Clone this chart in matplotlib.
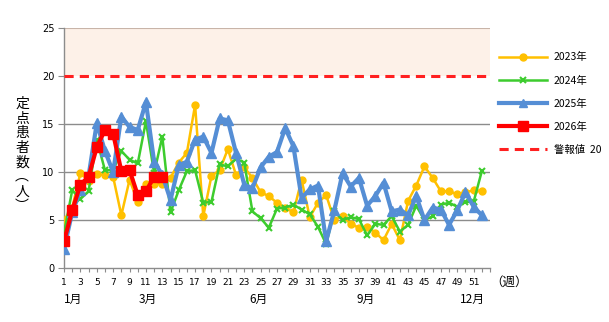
import matplotlib
matplotlib.use("Agg")
import matplotlib.pyplot as plt
from matplotlib.lines import Line2D

plt.rcParams['font.family'] = ['Noto Sans CJK JP', 'DejaVu Sans']

weeks = list(range(1, 53))
y2023 = [5.0, 6.3, 9.9, 9.1, 9.8, 9.7, 9.5, 5.5, 9.2, 6.9, 8.8, 8.8, 8.8, 9.4, 11.0, 12.0, 17.0,
         5.4, 9.6, 10.2, 12.4, 9.7, 10.5, 9.4, 7.9, 7.5, 6.8, 6.3, 5.8, 9.2, 5.3, 6.8, 7.6,
         5.0, 5.4, 4.6, 4.2, 4.3, 3.7, 2.9, 4.6, 2.9, 7.0, 8.6, 10.6, 9.4, 8.0, 8.0, 7.7, 7.9, 8.1, 8.0]
y2024 = [3.6, 8.1, 7.2, 8.0, 13.4, 10.2, 10.2, 12.2, 11.3, 10.9, 15.3, 9.9, 13.7, 5.8, 8.1, 10.1, 10.2,
         6.8, 6.9, 10.8, 10.6, 11.4, 11.0, 5.9, 5.2, 4.2, 6.2, 6.3, 6.6, 6.1, 5.6, 4.3, 2.5,
         5.9, 5.0, 5.3, 5.1, 3.4, 4.6, 4.5, 5.4, 3.8, 4.5, 6.5, 5.0, 5.4, 6.6, 6.8, 6.4, 6.9, 6.9, 10.1]
y2025 = [2.0, 5.8, 8.1, 9.6, 15.1, 12.2, 10.0, 15.8, 14.7, 14.4, 17.3, 11.1, 9.7, 7.1, 10.7, 11.1, 13.4,
         13.7, 12.0, 15.6, 15.4, 12.0, 8.7, 8.3, 10.5, 11.6, 12.1, 14.6, 12.7, 7.3, 8.2, 8.6, 2.8,
         6.0, 9.9, 8.5, 9.4, 6.5, 7.5, 8.9, 5.9, 6.1, 5.5, 7.5, 5.0, 6.3, 6.1, 4.5, 6.0, 7.9, 6.4, 5.5]
weeks2026 = list(range(1, 14))
y2026 = [2.8, 6.0, 8.7, 9.5, 12.6, 14.4, 14.0, 10.1, 10.2, 7.6, 8.0, 9.5, 9.5]
alarm = 20
xtick_labels = [str(w) for w in range(1, 52, 2)]
month_labels = ['1月', '3月', '6月', '9月', '12月']
month_pos = [2.1, 11.2, 24.8, 37.8, 50.9]

fig = plt.figure(figsize=(6.09, 3.22), dpi=100)
ax = fig.add_axes([64/609, 1-268/322, (490-64)/609, (268-28.3)/322])

ax.axhspan(20, 25, facecolor='#FDF1E8', edgecolor='none', zorder=0)
for g in [5, 10, 15]:
    ax.axhline(g, color='#8C8C8C', lw=1.0, zorder=1)
ax.axhline(25, color='#C8B4A8', lw=0.8, zorder=1)

ax.plot(weeks, y2023, color='#FFC000', lw=1.8, marker='o', ms=5, zorder=3, label='2023年')
ax.plot(weeks, y2024, color='#3DCC2E', lw=1.8, marker='x', ms=5, mew=1.5, zorder=4, label='2024年')
ax.plot(weeks, y2025, color='#558ED5', lw=3.0, marker='^', ms=7, zorder=5, label='2025年')
ax.plot(weeks2026, y2026, color='#FF0000', lw=3.0, marker='s', ms=7, zorder=6, label='2026年')
ax.axhline(alarm, color='#FF2020', lw=2.2, ls=(0, (3, 2)), zorder=7, label='警報値 20')

ax.set_xlim(1, 53)
ax.set_ylim(0, 25)
ax.set_yticks([0, 5, 10, 15, 20, 25])
ax.set_yticklabels(['0', '5', '10', '15', '20', '25'], fontsize=7, family='DejaVu Sans')
ax.set_xticks(list(range(1, 54)))
ax.set_xticklabels([str(w) if (w % 2 == 1 and w <= 51) else '' for w in range(1, 54)],
                   fontsize=6.5, family='DejaVu Sans')
ax.tick_params(axis='x', length=3, color='#8C8C8C', pad=4)
ax.tick_params(axis='y', length=4, color='#8C8C8C', pad=3, direction='out')
for s in ['top', 'right']:
    ax.spines[s].set_visible(False)
for s in ['left', 'bottom']:
    ax.spines[s].set_color('#8C8C8C')
    ax.spines[s].set_linewidth(1.0)

ax.text(53.0, -1.45, '（週）', fontsize=9, ha='left', va='center', clip_on=False)
for lab, p in zip(month_labels, month_pos):
    ax.text(p, -3.3, lab, fontsize=8.5, ha='center', va='center', clip_on=False)

fig.text(22/609, 1-155/322, '定\n点\n患\n者\n数\n︵\n人\n︶', fontsize=10, ha='center', va='center',
         linespacing=1.05)

handles = [
    Line2D([], [], color='#FFC000', lw=1.8, marker='o', ms=5),
    Line2D([], [], color='#3DCC2E', lw=1.8, marker='x', ms=5, mew=1.5),
    Line2D([], [], color='#558ED5', lw=3.0, marker='^', ms=6),
    Line2D([], [], color='#FF0000', lw=3.0, marker='s', ms=7),
    Line2D([], [], color='#FF2020', lw=2.2, ls=(0, (3, 2))),
]
labels = ['2023年', '2024年', '2025年', '2026年', '警報値  20']
fig.legend(handles, labels, loc='upper left', bbox_to_anchor=(490/609, 1-43/322), frameon=False,
           fontsize=7.5, handlelength=4.6, labelspacing=1.25, handletextpad=0.6)

fig.savefig('out.png', dpi=100)
